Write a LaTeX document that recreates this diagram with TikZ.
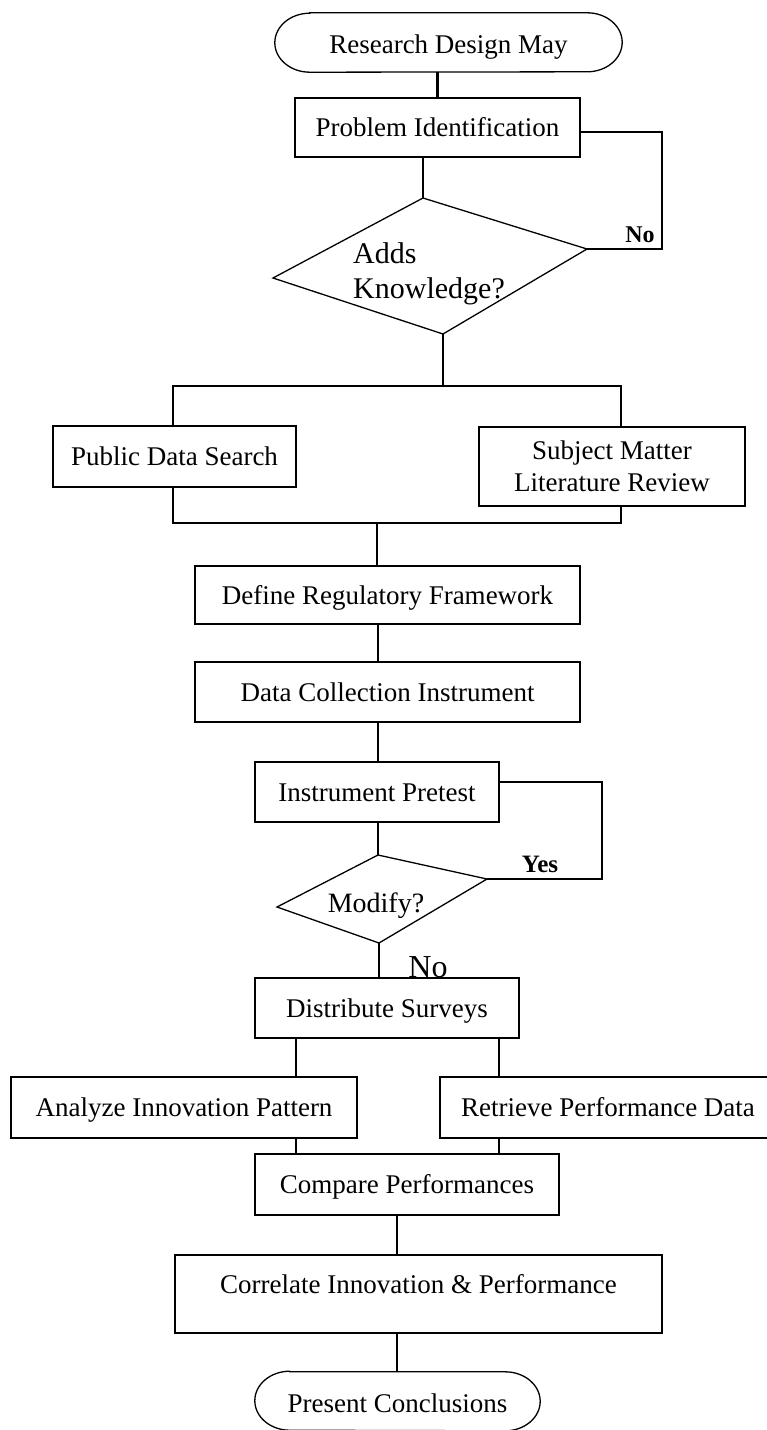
\documentclass[tikz,border=0pt]{standalone}
\usepackage{fontspec}
\setmainfont{Liberation Serif}
\begin{document}
\begin{tikzpicture}[x=1pt,y=-1pt,
  wire/.style={line width=1.3pt, line join=miter},
  txt/.style={font=\fontsize{27}{32}\selectfont},
  box/.style={draw, wire, rectangle, inner sep=0pt, txt, align=center,
              text height=18pt, text depth=0pt},
  endcap/.style={rectangle, inner sep=0pt, txt, text height=21pt, text depth=0pt},
  answer/.style={font=\fontsize{24}{28}\selectfont\bfseries, inner sep=0pt}]
\useasboundingbox (0,0) rectangle (766,1430);

% terminals (outline drawn below)
\node[endcap, minimum width=347pt, minimum height=59pt] (start) at (448.5,42.5) {Research Design May};
\node[endcap, minimum width=285pt, minimum height=58pt, text height=22pt] (stop) at (397.5,1401) {Present Conclusions};
\foreach \t in {start,stop}
  \draw[wire] ([xshift=35pt]\t.north west) -- ([xshift=-35pt]\t.north east)
    arc[start angle=90, end angle=-90, x radius=35pt, y radius=29.5pt]
    -- ([xshift=35pt]\t.south west)
    arc[start angle=270, end angle=90, x radius=35pt, y radius=29.5pt] -- cycle;

% process boxes
\node[box, minimum width=285pt, minimum height=59pt] (prob) at (437.5,127.5) {Problem Identification};
\node[box, minimum width=243pt, minimum height=61pt] (psearch) at (174.5,456.5) {Public Data Search};
\node[box, minimum width=266pt, minimum height=79pt, text height=, text depth=] (review) at (612,466.5) {Subject Matter\\Literature Review};
\node[box, minimum width=385pt, minimum height=58pt] (define) at (387.5,595) {Define Regulatory Framework};
\node[box, minimum width=385pt, minimum height=60pt] (datacol) at (387.5,692) {Data Collection Instrument};
\node[box, minimum width=244pt, minimum height=60pt] (pretest) at (377,792) {Instrument Pretest};
\node[box, minimum width=264pt, minimum height=60pt] (dist) at (387,1008) {Distribute Surveys};
\node[box, minimum width=346pt, minimum height=61pt] (analyze) at (184,1107.5) {Analyze Innovation Pattern};
\node[box, minimum width=336pt, minimum height=61pt] (retrieve) at (608,1107.5) {Retrieve Performance Data};
\node[box, minimum width=304pt, minimum height=61pt] (compare) at (407,1184.5) {Compare Performances};
\node[box, minimum width=487pt, minimum height=78pt, text depth=20pt] (correlate) at (418.5,1294) {Correlate Innovation \& Performance};

% decision: adds knowledge
\coordinate (d1t) at (423,198);
\coordinate (d1r) at (587,249);
\coordinate (d1b) at (443,334);
\coordinate (d1l) at (273,278);
\draw[wire] (d1t) -- (d1r) -- (d1b) -- (d1l) -- cycle;
\node[anchor=base west, inner sep=0pt, align=left, font=\fontsize{30}{35}\selectfont] (d1txt) at (353,298) {Adds\\Knowledge?};

% decision: modify
\coordinate (d2t) at (378,855);
\coordinate (d2r) at (487,879);
\coordinate (d2b) at (379,943);
\coordinate (d2l) at (277,907);
\draw[wire] (d2t) -- (d2r) -- (d2b) -- (d2l) -- cycle;
\node[anchor=base, inner sep=0pt, font=\fontsize{28}{32}\selectfont] (d2txt) at (376,912) {Modify?};

% helper points for the connectors
\coordinate (noturn) at (662,249);
\coordinate (busL) at (173,386);
\coordinate (busR) at (621,386);
\coordinate (jL) at (173,523);
\coordinate (jR) at (621,523);
\coordinate (sp1) at (377,523);
\coordinate (sp2) at (378,640);
\coordinate (yesturn) at (602,879);
\coordinate (la) at (296,1060);
\coordinate (ra) at (499,1060);
\coordinate (sp3) at (397,1240);

% connectors
\draw[line width=2.6pt] (start.south -| prob.north) -- (prob.north);
\draw[wire] (prob.south -| d1t) -- (d1t);
\draw[wire] ([yshift=-4.5pt]prob.east) -| (noturn) -- (d1r);
\draw[wire] (d1b) -- (d1b |- busL);
\draw[wire] (psearch.north -| busL) -- (busL) -- (busR) -- (review.north -| busR);
\draw[wire] (psearch.south -| jL) -- (jL) -- (jR) -- (review.south -| jR);
\draw[wire] (sp1) -- (define.north -| sp1);
\draw[wire] (define.south -| sp2) -- (datacol.north -| sp2);
\draw[wire] (datacol.south -| sp2) -- (pretest.north -| sp2);
\draw[wire] (pretest.south -| d2t) -- (d2t);
\draw[wire] ([yshift=10pt]pretest.east) -| (yesturn) -- (d2r);
\draw[wire] (d2b) -- (d2b |- dist.north);
\draw[wire] (dist.south -| la) -- (analyze.north -| la);
\draw[wire] (dist.south -| ra) -- (retrieve.north -| ra);
\draw[wire] (analyze.south -| la) -- (compare.north -| la);
\draw[wire] (retrieve.south -| ra) -- (compare.north -| ra);
\draw[wire] (compare.south -| sp3) -- (correlate.north -| sp3);
\draw[wire] (correlate.south -| sp3) -- (stop.north -| sp3);

% branch labels
\node[answer, anchor=base] (nolab1) at (640,242) {No};
\node[answer, anchor=base, font=\fontsize{25}{28}\selectfont\bfseries] (yeslab) at (540,872) {Yes};
\node[anchor=base, inner sep=0pt, font=\fontsize{32}{36}\selectfont] (nolab2) at (428,977) {No};
\end{tikzpicture}
\end{document}
